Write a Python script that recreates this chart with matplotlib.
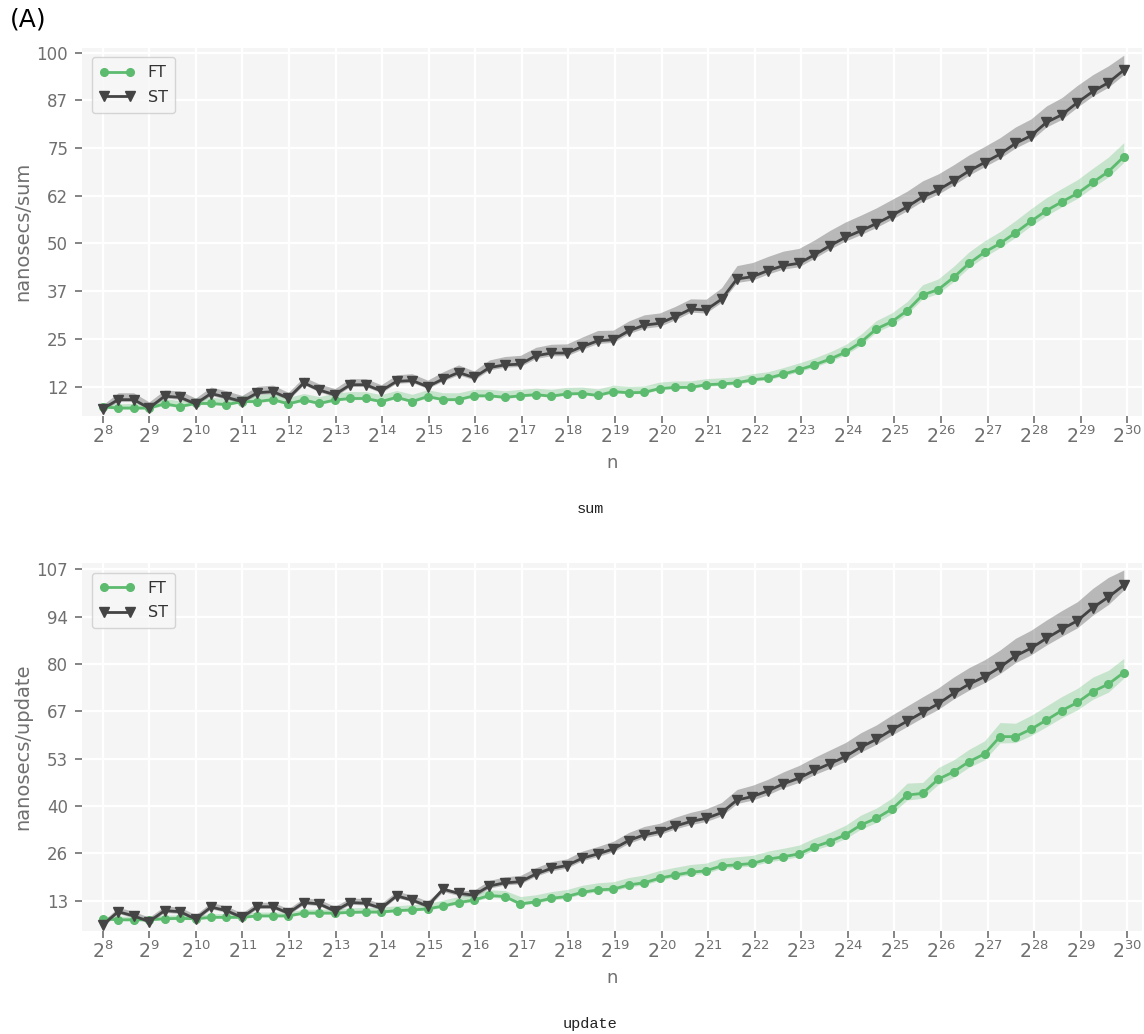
import numpy as np
import matplotlib
matplotlib.use("Agg")
import matplotlib.pyplot as plt

# x grid: n = 2^8 * 10^(k/10), k = 0..66
n_vals = 2 ** 8 * 10 ** (np.arange(67) / 10)

x_tick_exps = list(range(8, 31))

# ---------------- sum ----------------
sum_st = [6.7, 9.1, 9.1, 6.9, 10.0, 9.7, 8.0, 10.7, 9.7, 8.6,
          10.9, 11.2, 9.5, 13.5, 11.6, 10.4, 13.0, 13.0, 11.4, 13.9,
          14.1, 12.5, 14.5, 16.2, 14.9, 17.5, 18.2, 18.4, 20.6, 21.3,
          21.3, 23.0, 24.5, 24.8, 27.1, 28.6, 29.1, 30.8, 32.8, 32.6,
          35.4, 40.7, 41.3, 42.9, 44.2, 44.8, 47.0, 49.4, 51.6, 53.3,
          55.2, 57.3, 59.6, 62.2, 64.0, 66.4, 69.0, 71.2, 73.4, 76.2,
          78.2, 81.7, 83.7, 86.9, 89.8, 92.1, 95.4]
sum_st_hi = [7.7, 10.9, 10.9, 8.5, 11.6, 11.4, 9.5, 12.4, 11.4, 10.2,
             12.6, 12.9, 11.0, 15.0, 13.2, 12.0, 14.6, 14.6, 13.0, 15.6,
             15.9, 14.2, 16.4, 18.2, 16.6, 19.5, 20.4, 20.7, 22.8, 23.6,
             23.7, 25.5, 27.2, 27.3, 29.7, 31.3, 31.8, 33.5, 35.5, 35.4,
             38.4, 44.2, 45.0, 46.6, 48.0, 48.7, 50.9, 53.4, 55.6, 57.4,
             59.3, 61.5, 63.7, 66.4, 68.2, 70.6, 73.2, 75.4, 77.7, 80.5,
             82.6, 86.0, 88.2, 91.4, 94.2, 96.5, 99.3]
sum_st_lo = [6.3, 8.6, 8.6, 6.5, 9.5, 9.2, 7.6, 10.2, 9.2, 8.2,
             10.4, 10.7, 9.0, 13.0, 11.1, 9.9, 12.5, 12.5, 10.9, 13.4,
             13.6, 12.0, 14.0, 15.6, 14.3, 16.9, 17.6, 17.8, 19.9, 20.6,
             20.6, 22.3, 23.8, 24.1, 26.4, 27.8, 28.3, 30.0, 32.0, 31.8,
             34.6, 39.8, 40.4, 42.0, 43.3, 43.9, 46.1, 48.5, 50.6, 52.3,
             54.2, 56.3, 58.6, 61.1, 62.9, 65.3, 67.9, 70.1, 72.3, 75.0,
             77.0, 80.5, 82.5, 85.7, 88.6, 90.9, 94.2]
sum_ft = [7.2, 6.9, 6.9, 6.9, 8.0, 7.3, 8.1, 8.1, 7.8, 8.6,
          8.6, 9.1, 8.0, 9.0, 8.1, 9.0, 9.4, 9.4, 8.6, 9.7,
          8.6, 9.9, 9.1, 9.1, 10.1, 10.1, 9.7, 10.1, 10.4, 10.0,
          10.6, 10.7, 10.2, 11.2, 10.9, 11.0, 12.0, 12.3, 12.3, 13.0,
          13.2, 13.5, 14.3, 14.7, 15.8, 16.9, 18.2, 19.7, 21.5, 24.1,
          27.6, 29.5, 32.4, 36.5, 37.9, 41.1, 44.8, 47.7, 50.0, 52.8,
          55.8, 58.6, 60.9, 63.1, 66.0, 68.8, 72.7]
sum_ft_hi = [8.0, 8.0, 8.1, 8.2, 9.4, 8.8, 9.6, 9.7, 9.4, 10.2,
             10.3, 10.8, 9.7, 10.7, 9.9, 10.8, 11.2, 11.2, 10.4, 11.5,
             10.5, 11.7, 10.9, 10.9, 11.8, 11.8, 11.4, 11.8, 12.1, 11.8,
             12.3, 12.4, 11.9, 12.9, 12.6, 12.7, 13.7, 14.0, 14.0, 14.6,
             14.8, 15.1, 15.9, 16.4, 17.5, 18.7, 20.0, 21.6, 23.5, 26.2,
             29.8, 31.8, 34.8, 39.2, 40.7, 44.0, 47.8, 50.7, 53.1, 56.0,
             59.1, 62.0, 64.4, 66.7, 69.7, 72.6, 76.4]
sum_ft_lo = [6.9, 6.6, 6.6, 6.6, 7.6, 7.0, 7.8, 7.8, 7.5, 8.3,
             8.3, 8.8, 7.7, 8.7, 7.8, 8.7, 9.1, 9.1, 8.3, 9.4,
             8.3, 9.6, 8.8, 8.8, 9.8, 9.8, 9.4, 9.8, 10.1, 9.7,
             10.3, 10.4, 9.9, 10.9, 10.6, 10.7, 11.7, 12.0, 12.0, 12.6,
             12.8, 13.1, 13.9, 14.3, 15.3, 16.4, 17.6, 19.1, 20.8, 23.3,
             26.8, 28.6, 31.5, 35.5, 36.9, 40.0, 43.7, 46.5, 48.9, 51.6,
             54.6, 57.3, 59.6, 61.8, 64.7, 67.4, 71.2]

# ---------------- update ----------------
upd_st = [6.5, 10.3, 9.1, 7.5, 10.6, 10.3, 8.2, 11.6, 10.6, 8.7,
          11.7, 11.7, 9.9, 12.9, 12.5, 10.5, 12.9, 12.7, 11.3, 14.8,
          13.6, 11.9, 16.7, 15.5, 15.0, 17.6, 18.5, 18.8, 21.0, 22.6,
          23.4, 25.5, 26.7, 28.1, 30.5, 32.1, 33.0, 34.6, 35.9, 36.8,
          38.4, 42.0, 43.0, 44.6, 46.6, 48.2, 50.4, 52.3, 54.3, 57.0,
          59.2, 61.9, 64.4, 66.9, 69.3, 72.3, 74.9, 77.0, 79.7, 82.9,
          85.1, 87.9, 90.5, 92.9, 96.6, 99.6, 103.0]
upd_st_hi = [7.5, 11.5, 10.4, 8.7, 11.9, 11.6, 9.4, 12.9, 11.9, 9.9,
             13.0, 13.0, 11.1, 14.2, 13.8, 11.8, 14.2, 14.0, 12.6, 16.1,
             15.0, 13.3, 17.2, 16.2, 16.4, 19.2, 20.2, 20.6, 22.8, 24.5,
             25.3, 27.5, 28.8, 30.3, 32.8, 34.5, 35.4, 37.1, 38.5, 39.5,
             41.3, 45.0, 46.2, 47.9, 50.0, 51.8, 54.1, 56.2, 58.3, 61.1,
             63.3, 66.1, 68.7, 71.3, 73.8, 76.9, 79.6, 81.8, 84.6, 87.9,
             90.2, 93.1, 95.8, 98.3, 102.1, 105.2, 107.3]
upd_st_lo = [6.0, 9.8, 8.6, 7.0, 10.1, 9.8, 7.7, 11.1, 10.1, 8.2,
             11.2, 11.2, 9.4, 12.4, 12.0, 10.0, 12.4, 12.2, 10.8, 14.3,
             13.1, 11.4, 16.0, 14.9, 14.4, 17.0, 17.9, 18.2, 20.4, 21.9,
             22.7, 24.8, 26.0, 27.3, 29.7, 31.3, 32.2, 33.8, 35.0, 35.9,
             37.5, 41.0, 42.0, 43.5, 45.5, 47.0, 49.2, 51.0, 53.0, 55.6,
             57.8, 60.4, 62.9, 65.4, 67.7, 70.7, 73.2, 75.3, 77.9, 81.0,
             83.2, 86.0, 88.5, 90.9, 94.5, 97.5, 101.6]
upd_ft = [8.3, 8.0, 8.0, 8.0, 8.3, 8.4, 8.3, 8.7, 8.7, 8.7,
          9.1, 9.1, 9.1, 9.9, 9.9, 9.9, 10.1, 10.2, 10.2, 10.6,
          10.8, 11.1, 11.9, 12.9, 13.6, 14.9, 14.6, 12.5, 13.1, 14.1,
          14.6, 15.8, 16.5, 16.7, 17.9, 18.5, 19.8, 20.7, 21.5, 21.9,
          23.3, 23.6, 24.0, 25.2, 25.9, 26.7, 28.7, 30.2, 32.1, 34.9,
          36.8, 39.4, 43.4, 43.9, 47.9, 50.0, 52.9, 55.1, 60.0, 60.0,
          62.1, 64.7, 67.4, 69.7, 72.8, 74.9, 78.2]
upd_ft_hi = [9.0, 9.0, 9.0, 8.9, 9.3, 9.4, 9.3, 9.7, 9.8, 9.8,
             10.2, 10.2, 10.2, 11.0, 11.0, 11.1, 11.4, 11.5, 11.6, 12.0,
             12.3, 12.6, 13.6, 14.6, 15.3, 16.5, 16.3, 14.6, 15.1, 16.0,
             16.6, 17.8, 18.5, 18.8, 20.0, 20.7, 22.0, 22.9, 23.7, 24.1,
             25.5, 25.9, 26.3, 27.5, 28.3, 29.2, 31.2, 32.8, 34.8, 37.7,
             39.7, 42.5, 46.8, 47.0, 51.2, 53.4, 56.4, 58.8, 64.0, 63.8,
             66.0, 68.7, 71.4, 73.7, 76.9, 78.8, 82.2]
upd_ft_lo = [7.9, 7.7, 7.7, 7.7, 8.0, 8.1, 8.0, 8.4, 8.4, 8.4,
             8.8, 8.8, 8.8, 9.6, 9.6, 9.6, 9.8, 9.9, 9.9, 10.3,
             10.5, 10.8, 11.5, 12.5, 13.2, 14.4, 14.1, 12.1, 12.7, 13.6,
             14.1, 15.3, 16.0, 16.2, 17.3, 17.9, 19.2, 20.1, 20.8, 21.2,
             22.6, 22.9, 23.3, 24.4, 25.1, 25.9, 27.8, 29.2, 31.0, 33.7,
             35.6, 38.1, 42.0, 42.5, 46.4, 48.4, 51.3, 53.4, 58.2, 58.3,
             60.3, 62.8, 65.4, 67.6, 70.6, 72.6, 76.6]

sum_yticks = [12.5, 25.0, 37.5, 50.0, 62.5, 75.0, 87.5, 100.0]
sum_yticklabels = ["12", "25", "37", "50", "62", "75", "87", "100"]
upd_yticks = [107.5 * i / 8 for i in range(1, 9)]
upd_yticklabels = ["13", "26", "40", "53", "67", "80", "94", "107"]

FT_COLOR = "#5cbb6e"
FT_FILL = "#5cbb6e"
ST_COLOR = "#444444"
ST_FILL = "#555555"
TICK_COLOR = "#6f6f6f"

fig = plt.figure(figsize=(11.44, 10.34), dpi=100)

panels = [
    dict(rect=[0.0717, 0.598, 0.9263, 0.356], st=sum_st, st_hi=sum_st_hi, st_lo=sum_st_lo,
         ft=sum_ft, ft_hi=sum_ft_hi, ft_lo=sum_ft_lo, ylim=(4.9, 101.3),
         yt=sum_yticks, ytl=sum_yticklabels, title="sum", ty=1 - 509 / 1034),
    dict(rect=[0.0717, 0.100, 0.9263, 0.3552], st=upd_st, st_hi=upd_st_hi, st_lo=upd_st_lo,
         ft=upd_ft, ft_hi=upd_ft_hi, ft_lo=upd_ft_lo, ylim=(4.93, 109.2),
         yt=upd_yticks, ytl=upd_yticklabels, title="update", ty=1 - 1024 / 1034),
]

for p in panels:
    ax = fig.add_axes(p["rect"])
    ax.set_facecolor("#f5f5f5")
    for s in ax.spines.values():
        s.set_visible(False)
    ax.set_xscale("log", base=2)
    ax.grid(True, color="white", linewidth=1.6)
    ax.set_axisbelow(True)

    ax.fill_between(n_vals, p["ft_lo"], p["ft_hi"], color=FT_FILL, alpha=0.3, linewidth=0)
    ax.fill_between(n_vals, p["st_lo"], p["st_hi"], color=ST_FILL, alpha=0.38, linewidth=0)
    ax.plot(n_vals, p["ft"], color=FT_COLOR, marker="o", markersize=5.5, linewidth=2, label="FT")
    ax.plot(n_vals, p["st"], color=ST_COLOR, marker="v", markersize=7, linewidth=2, label="ST")

    ax.set_xlim(2 ** 7.556, 2 ** 30.31)
    ax.set_ylim(*p["ylim"])
    ax.set_xticks([2.0 ** e for e in x_tick_exps])
    ax.set_xticklabels([r"$2^{%d}$" % e for e in x_tick_exps])
    ax.xaxis.set_minor_locator(matplotlib.ticker.NullLocator())
    ax.set_yticks(p["yt"])
    ax.set_yticklabels(p["ytl"])
    ax.tick_params(axis="x", colors=TICK_COLOR, labelsize=13.5, length=5, width=1.2, pad=2)
    ax.tick_params(axis="y", colors=TICK_COLOR, labelsize=12, length=5, width=1.2, pad=5)
    ax.set_xlabel("n", color=TICK_COLOR, fontsize=13, labelpad=5)
    ax.set_ylabel("nanosecs/" + p["title"], color=TICK_COLOR, fontsize=14, labelpad=3)

    leg = ax.legend(loc="upper left", fontsize=11.5, frameon=True, fancybox=True, numpoints=2,
                    borderpad=0.5, handlelength=2.2, labelspacing=0.6, borderaxespad=0.6)
    leg.get_frame().set_facecolor("#f7f7f7")
    leg.get_frame().set_edgecolor("#cccccc")
    for t in leg.get_texts():
        t.set_color("#333333")

    fig.text(590 / 1144, p["ty"], p["title"], family="Liberation Mono", fontsize=11,
             ha="center", va="center", color="#222222")

fig.text(10 / 1144, 1 - 20 / 1034, "(A)", fontsize=18, ha="left", va="center", color="black")

fig.savefig("out.png", dpi=100)
